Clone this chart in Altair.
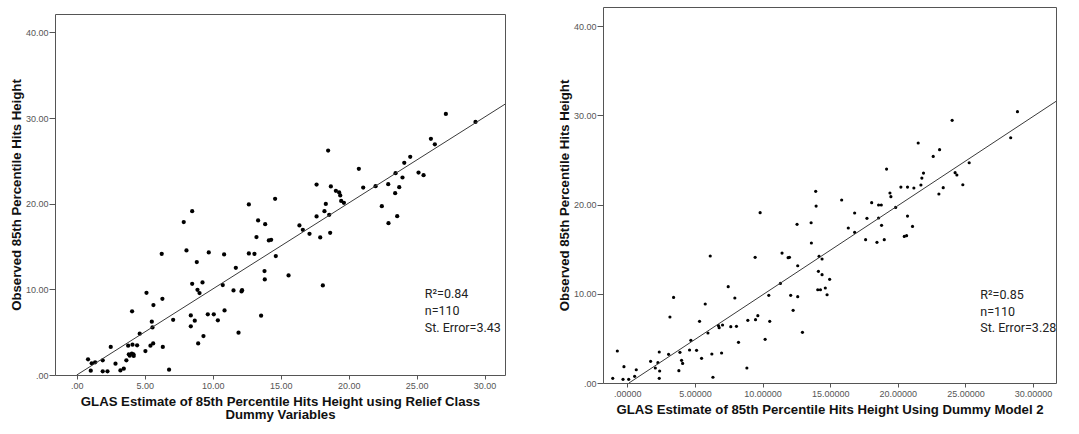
import altair as alt
import pandas as pd

# Relief Class dummy-variable model: GLAS estimate vs observed 85th percentile height
relief_est = [0.83, 1.03, 1.10, 1.35, 1.91, 1.91, 2.26, 2.50, 2.85, 3.21,
              3.46, 3.65, 3.78, 3.83, 3.90, 4.05, 4.10, 4.07, 4.17, 4.19,
              4.44, 4.63, 5.05, 5.13, 5.42, 5.52, 5.57, 5.64, 5.62, 6.25,
              6.30, 6.33, 6.79, 7.09, 7.87, 8.07, 8.39, 8.39, 8.49, 8.49,
              8.68, 8.83, 8.88, 8.93, 9.03, 9.25, 9.32, 9.64, 9.71, 10.08,
              10.38, 10.74, 10.84, 10.87, 11.53, 11.70, 11.90, 12.12, 12.16, 12.66,
              12.66, 13.07, 13.22, 13.34, 13.56, 13.81, 13.86, 13.83, 14.13, 14.30,
              14.59, 14.64, 15.58, 16.38, 16.63, 17.12, 17.64, 17.64, 17.91, 18.10,
              18.22, 18.32, 18.49, 18.57, 18.64, 18.69, 19.06, 19.30, 19.38, 19.45,
              19.65, 20.75, 21.07, 21.98, 22.44, 22.91, 22.93, 23.42, 23.45, 23.57,
              23.72, 23.96, 24.09, 24.53, 25.14, 25.51, 26.05, 26.34, 27.15, 29.33]
relief_obs = [1.83, 0.51, 1.36, 1.48, 1.71, 0.43, 0.43, 3.27, 1.32, 0.54,
              0.74, 1.71, 3.42, 2.41, 2.26, 2.49, 3.54, 7.43, 2.41, 2.22,
              3.46, 4.82, 2.80, 9.60, 3.42, 6.22, 5.56, 8.16, 3.69, 14.15,
              8.90, 3.27, 0.62, 6.45, 17.85, 14.54, 6.96, 5.68, 19.13, 10.65,
              6.34, 13.18, 9.95, 3.69, 9.56, 10.81, 4.55, 7.08, 14.31, 7.08,
              6.38, 10.50, 14.07, 7.54, 9.88, 12.52, 4.94, 9.76, 9.90, 19.91,
              14.19, 14.15, 16.10, 18.04, 6.92, 12.13, 17.61, 11.16, 15.71, 15.79,
              20.57, 13.88, 11.63, 17.46, 16.95, 16.49, 22.24, 18.51, 16.06, 10.46,
              19.13, 19.98, 26.21, 18.70, 16.60, 22.01, 21.50, 21.31, 20.96, 20.33,
              20.10, 24.07, 21.89, 22.05, 19.71, 22.28, 17.73, 21.23, 23.56, 18.55,
              21.93, 23.06, 24.77, 25.47, 23.64, 23.33, 27.57, 26.94, 30.48, 29.55]

# Dummy Model 2: GLAS estimate vs observed 85th percentile height
model2_est = [-1.08, -0.74, -0.32, -0.25, 0.10, 0.54, 0.66, 1.72, 2.07, 2.26,
              2.36, 2.39, 2.36, 3.05, 3.15, 3.42, 3.81, 3.89, 4.01, 4.09,
              4.60, 4.70, 5.12, 5.34, 5.49, 5.76, 5.96, 6.13, 6.25, 6.33,
              6.74, 6.79, 6.97, 7.04, 7.46, 7.65, 7.95, 8.07, 8.22, 8.84,
              8.91, 9.45, 9.48, 9.65, 9.82, 10.19, 10.46, 10.53, 11.32, 11.44,
              11.89, 11.99, 12.08, 12.26, 12.55, 12.60, 12.60, 12.95, 13.59, 13.61,
              13.93, 13.96, 14.13, 14.18, 14.08, 14.28, 14.40, 14.40, 14.64, 14.77,
              14.96, 15.85, 16.34, 16.81, 16.81, 17.62, 17.72, 18.07, 18.46, 18.58,
              18.58, 18.78, 18.80, 19.00, 19.17, 19.42, 19.49, 19.84, 20.23, 20.48,
              20.65, 20.72, 20.72, 21.09, 21.19, 21.51, 21.71, 21.78, 21.90, 22.62,
              23.04, 23.09, 23.36, 24.02, 24.24, 24.37, 24.81, 25.28, 28.35, 28.85]
model2_obs = [0.52, 3.59, 0.41, 1.83, 0.41, 0.75, 1.49, 2.43, 1.68, 2.28,
              3.48, 1.35, 0.52, 3.21, 7.40, 9.60, 1.38, 3.44, 2.54, 2.20,
              3.70, 4.78, 3.66, 6.91, 2.77, 8.86, 5.61, 14.24, 3.25, 0.64,
              6.43, 6.20, 3.36, 6.50, 10.80, 6.32, 9.53, 6.35, 4.56, 1.68,
              7.03, 14.09, 7.10, 7.55, 19.10, 4.90, 9.83, 6.91, 11.17, 14.57,
              14.05, 14.09, 9.83, 8.15, 17.79, 13.15, 9.68, 5.68, 17.97, 15.70,
              21.49, 19.84, 12.52, 14.20, 10.46, 10.46, 13.90, 12.15, 10.65, 9.90,
              11.62, 20.52, 17.38, 19.06, 16.89, 16.07, 18.46, 20.22, 15.77, 19.96,
              18.50, 19.96, 17.68, 16.07, 23.99, 21.30, 20.89, 19.69, 21.97, 16.44,
              16.52, 21.97, 18.72, 17.56, 21.86, 26.91, 22.20, 22.98, 23.54, 25.41,
              21.19, 26.16, 21.90, 29.45, 23.58, 23.32, 22.23, 24.70, 27.50, 30.42]

# Fitted regression lines (end points, clipped at the bottom of the y axis)
relief_fit_x = [0.0, 31.5]
relief_fit_y = [0.0, 31.62]
model2_fit_x = [0.12, 31.7]
model2_fit_y = [0.0, 31.58]

relief_stats = ["R²=0.84", "n=110", "St. Error=3.43"]
model2_stats = ["R²=0.85", "n=110", "St. Error=3.28"]

y_ticks = [0, 10, 20, 30, 40]
x_ticks = [0, 5, 10, 15, 20, 25, 30]

TEXT_FONT = "Liberation Sans"
STAT_FONT = "Roboto"


def panel(est, obs, fit_x, fit_y, stats, x_domain, y_domain, width, height,
          dot_size, x_decimals, x_title, stat_x, stat_y, stat_step):
    pts = pd.DataFrame({"est": est, "obs": obs})
    fit = pd.DataFrame({"est": fit_x, "obs": fit_y})
    notes = pd.DataFrame({
        "est": [stat_x] * len(stats),
        "obs": [stat_y - i * stat_step for i in range(len(stats))],
        "txt": stats,
    })

    xs = alt.Scale(domain=x_domain, nice=False, zero=False)
    ys = alt.Scale(domain=y_domain, nice=False, zero=False)
    zero_x = "." + "0" * x_decimals
    x_axis = alt.Axis(
        values=x_ticks, title=x_title,
        labelExpr=f"datum.value == 0 ? '{zero_x}' : format(datum.value, '.{x_decimals}f')",
        tickSize=4, labelPadding=2, titlePadding=5, titleLineHeight=13,
    )
    y_axis = alt.Axis(
        values=y_ticks, title="Observed 85th Percentile Hits Height",
        labelExpr="datum.value == 0 ? '.00' : format(datum.value, '.2f')",
        tickSize=6, labelPadding=1, titlePadding=2,
    )

    dots = alt.Chart(pts).mark_circle(size=dot_size, color="black", opacity=1).encode(
        x=alt.X("est:Q", scale=xs, axis=x_axis),
        y=alt.Y("obs:Q", scale=ys, axis=y_axis),
    )
    line = alt.Chart(fit).mark_line(color="#3a3a3a", strokeWidth=1, clip=True).encode(
        x=alt.X("est:Q", scale=xs),
        y=alt.Y("obs:Q", scale=ys),
    )
    text = alt.Chart(notes).mark_text(
        align="left", baseline="middle", font=STAT_FONT, fontSize=12.5, color="#222"
    ).encode(
        x=alt.X("est:Q", scale=xs),
        y=alt.Y("obs:Q", scale=ys),
        text="txt:N",
    )
    return alt.layer(dots, line, text).properties(width=width, height=height)


left = panel(
    relief_est, relief_obs, relief_fit_x, relief_fit_y, relief_stats,
    [-1.6, 31.5], [0, 42.15], 450, 361, 18, 2,
    ["GLAS Estimate of 85th Percentile Hits Height using Relief Class", "Dummy Variables"],
    25.6, 9.5, 2.0,
)

# empty strip that drops the left panel slightly below the right one
spacer = alt.Chart(pd.DataFrame({"v": [0]})).mark_point(opacity=0, size=1).encode(
    x=alt.value(225), y=alt.value(2)
).properties(width=450, height=5, view=alt.ViewBackground(stroke="transparent"))

right = panel(
    model2_est, model2_obs, model2_fit_x, model2_fit_y, model2_stats,
    [-1.8, 31.7], [0, 42.16], 453, 376, 10, 5,
    "GLAS Estimate of 85th Percentile Hits Height Using Dummy Model 2",
    26.1, 9.85, 1.85,
)

chart = alt.hconcat(
    alt.vconcat(spacer, left, spacing=0), right, spacing=50
).properties(
    padding={"left": 8, "top": 6, "right": 5, "bottom": 5},
    background="white",
).configure_view(
    stroke="#555555", strokeWidth=1,
).configure_axis(
    grid=False, domain=False,
    labelFont=TEXT_FONT, labelFontSize=9, labelColor="#555555",
    tickColor="#555555", tickWidth=1,
    titleFont=TEXT_FONT, titleFontSize=13.2, titleFontWeight="bold", titleColor="#111111",
)

chart.save("out.html", embed_options={"renderer": "svg", "actions": False})
